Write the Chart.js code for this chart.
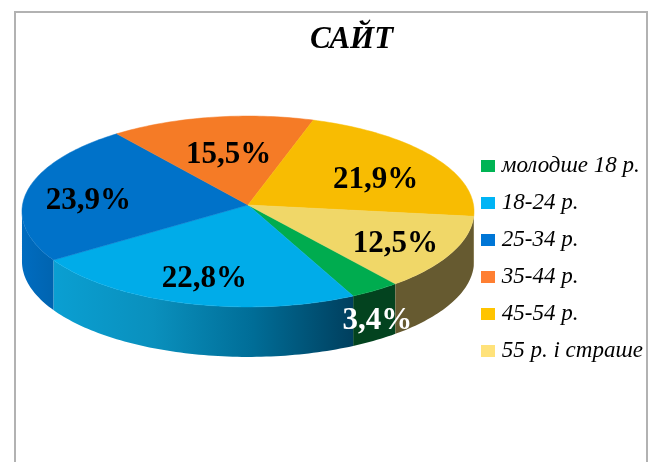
<!DOCTYPE html>
<html>
<head>
<meta charset="utf-8">
<style>
html,body{margin:0;padding:0;background:#fff;overflow:hidden}
#wrap{position:relative;width:654px;height:462px}
canvas{display:block;filter:blur(0.45px)}
</style>
<script src="https://cdn.jsdelivr.net/npm/chart.js@4"></script>
</head>
<body>
<div id="wrap"><canvas id="c" width="654" height="462"></canvas></div>
<script>
const titleText = 'САЙТ';
const categories = ['молодше 18 р.', '18-24 р.', '25-34 р.', '35-44 р.', '45-54 р.', '55 р. і страше'];
const shares = [3.4, 22.8, 23.9, 15.5, 21.9, 12.5];
const topColors = ['#00ac4f', '#00ace9', '#0072c9', '#f57b26', '#f8bc02', '#f0d768'];
const legendColors = ['#00b454', '#00b4f5', '#0076d6', '#ff7f32', '#ffc400', '#ffe27a'];
const sideColors = [['#03431f', '#03431f'], ['#0a9fd2', '#0a90bd', '#006d97', '#003f5e'], ['#006cc0', '#0064b0'], ['#b85c1c', '#b85c1c'], ['#a88002', '#a88002'], ['#665a30', '#665a30']];
const labelColors = ['#ffffff', '#000000', '#000000', '#000000', '#000000', '#000000'];
const labelNudges = [[55, 66], [-7, 17], [-27, 5], [3, 4], [16, 5], [27, 11]];

const view = {cx: 248, cy: 205, rx: 225.5, ry: 95, k: 0.068, depth: 50};

function project(angle, r) {
  const u = r * Math.cos(angle), v = r * Math.sin(angle), w = 1 - view.k * v;
  return [view.cx + view.rx * u / w, view.cy + view.ry * v / w];
}
function arcAngles(arc) {
  const out = [], n = Math.max(2, Math.ceil((arc.endAngle - arc.startAngle) / 0.02));
  for (let i = 0; i <= n; i++) out.push(arc.startAngle + (arc.endAngle - arc.startAngle) * i / n);
  return out;
}
function swatch(color) {
  const s = document.createElement('canvas');
  s.width = 14; s.height = 12;
  const g = s.getContext('2d');
  g.fillStyle = color; g.fillRect(0, 0, 14, 12);
  return s;
}

const pie3d = {
  id: 'pie3d',
  beforeDraw(chart) {
    const ctx = chart.ctx;
    ctx.save();
    ctx.strokeStyle = '#b2b2b2';
    ctx.lineWidth = 2;
    ctx.beginPath();
    ctx.moveTo(15, 462); ctx.lineTo(15, 12); ctx.lineTo(647, 12); ctx.lineTo(647, 462);
    ctx.stroke();
    ctx.restore();
  },
  beforeDatasetDraw(chart, args) {
    const ctx = chart.ctx, arcs = chart.getDatasetMeta(args.index).data;
    ctx.save();
    arcs.forEach((arc, i) => {
      // only the part of the rim that faces the viewer gets a side wall
      const pts = arcAngles(arc).filter(a => Math.sin(a) >= view.k).map(a => project(a, 1));
      if (pts.length < 2) return;
      const xs = pts.map(p => p[0]);
      const grad = ctx.createLinearGradient(Math.min(...xs), 0, Math.max(...xs), 0);
      sideColors[i].forEach((c, j, list) => grad.addColorStop(j / (list.length - 1), c));
      ctx.fillStyle = grad;
      ctx.beginPath();
      pts.forEach((p, j) => j ? ctx.lineTo(p[0], p[1]) : ctx.moveTo(p[0], p[1]));
      pts.slice().reverse().forEach(p => ctx.lineTo(p[0], p[1] + view.depth));
      ctx.closePath();
      ctx.fill();
    });
    arcs.forEach((arc, i) => {
      const pts = arcAngles(arc).map(a => project(a, 1));
      ctx.fillStyle = topColors[i];
      ctx.strokeStyle = topColors[i];
      ctx.lineWidth = 0.5;
      ctx.beginPath();
      ctx.moveTo(view.cx, view.cy);
      pts.forEach(p => ctx.lineTo(p[0], p[1]));
      ctx.closePath();
      ctx.fill();
      ctx.stroke();
    });
    ctx.restore();
    return false;
  },
  afterDatasetsDraw(chart) {
    const ctx = chart.ctx, arcs = chart.getDatasetMeta(0).data;
    ctx.save();
    ctx.font = 'bold 31px "Liberation Serif"';
    ctx.textAlign = 'center';
    ctx.textBaseline = 'middle';
    arcs.forEach((arc, i) => {
      const p = project((arc.startAngle + arc.endAngle) / 2, 0.6);
      ctx.fillStyle = labelColors[i];
      ctx.fillText(shares[i].toFixed(1).replace('.', ',') + '%', p[0] + labelNudges[i][0], p[1] + labelNudges[i][1]);
    });
    ctx.restore();
  }
};

new Chart(document.getElementById('c'), {
  type: 'pie',
  data: {
    labels: categories,
    datasets: [{data: shares, backgroundColor: topColors, borderWidth: 0}]
  },
  plugins: [pie3d],
  options: {
    responsive: false,
    animation: false,
    rotation: 141.8,
    layout: {padding: {left: 50, right: 1, top: 0, bottom: 3}},
    plugins: {
      tooltip: {enabled: false},
      title: {
        display: true,
        text: titleText,
        color: '#000',
        font: {family: '"Liberation Serif"', size: 31, style: 'italic', weight: 'bold'},
        padding: {top: 21, bottom: 0}
      },
      legend: {
        position: 'right',
        align: 'center',
        fullSize: false,
        labels: {
          color: '#111',
          font: {family: '"Liberation Serif"', size: 23, style: 'italic'},
          padding: 14,
          usePointStyle: true,
          pointStyleWidth: 4,
          boxHeight: 12,
          generateLabels: () => categories.map((t, i) => ({
            text: t, fillStyle: legendColors[i], strokeStyle: legendColors[i], lineWidth: 0,
            pointStyle: swatch(legendColors[i]), hidden: false, index: i
          }))
        }
      }
    }
  }
});
</script>
</body>
</html>
